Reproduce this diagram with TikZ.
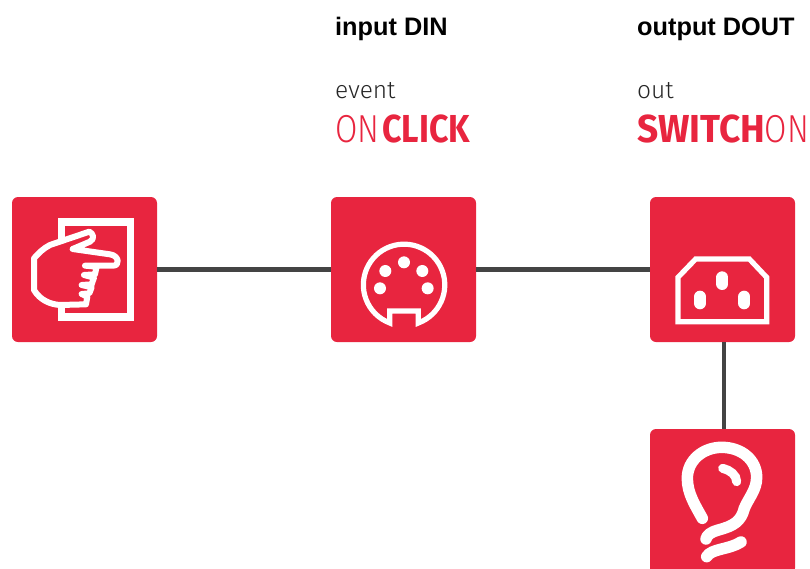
\documentclass[tikz,border=0pt]{standalone}
\usepackage{fontspec}
\setmainfont{Liberation Sans}
\newfontfamily\lightfont{Fira Sans Light}
\newfontfamily\heavyfont{Fira Sans Bold}
\definecolor{boxred}{HTML}{E8253F}
\definecolor{wiregray}{HTML}{444444}
\tikzset{
  iconbox/.style={fill=boxred, rounded corners=6pt, minimum size=145pt, inner sep=0pt},
  wire/.style={draw=wiregray, line width=4.6pt},
  iconline/.style={draw=white, line width=5.2pt, line join=miter},
  label/.style={anchor=base west, inner sep=0pt},
  headtext/.style={label, font=\fontsize{25.3}{25.3}\selectfont\bfseries},
  smalltext/.style={label, font=\fontsize{24.5}{24.5}\lightfont, text=black!85},
  bigtext/.style={label, font=\fontsize{39}{39}\selectfont, text=boxred}
}
\begin{document}
\begin{tikzpicture}[x=1pt, y=1pt]
  \clip (0, 0) rectangle (810, -568);
  \node [iconbox] (clickbox) at (84.5, -269.5) {};
  \node [iconbox] (dinbox) at (403.5, -269.5) {};
  \node [iconbox] (plugbox) at (722.5, -269.5) {};
  \node [iconbox] (lampbox) at (722.5, -501.5) {};
  \draw [wire] (clickbox) -- (dinbox);
  \draw [wire] (dinbox) -- (plugbox);
  \draw [wire] ([xshift=1.5pt]plugbox.south) -- ([xshift=1.5pt]lampbox.north);
  \node [headtext] (dinhead) at (335, -35) {input DIN};
  \node [headtext] (outhead) at (637, -35) {output DOUT};
  \node [smalltext] (eventtext) at (335, -98) {event};
  \node [smalltext] (outtext) at (637, -98) {out};
  \node [bigtext] (clicktext) at (335, -142) {\scalebox{.83}[1]{\lightfont ON}\hspace{3pt}\scalebox{.87}[1]{\heavyfont CLICK}};
  \node [bigtext] (switchtext) at (637, -142) {\scalebox{.95}[1]{\heavyfont SWITCH}\scalebox{.83}[1]{\lightfont ON}};
  \draw [iconline, line width=7.5pt] (61.5, -240) -- (61.5, -222) -- (130.5, -222) -- (130.5, -317) -- (61.5, -317) -- (61.5, -305);
  \begin{scope}[shift={(30, -225)}, x=.3333pt, y=.3333pt]
    \draw [iconline, line width=6pt, fill=boxred, line join=round] (178, -20) .. controls (190, -25) and (195, -42) .. (180, -50) -- (128, -72) -- (240, -88) .. controls (268, -92) and (270, -122) .. (250, -122) -- (165, -122) -- (200, -125) -- (195, -148) -- (162, -150) -- (192, -158) -- (185, -178) -- (155, -180) -- (185, -187) -- (178, -205) -- (155, -207) -- (172, -215) -- (168, -238) -- (90, -240) .. controls (60, -238) and (30, -225) .. (12, -195) -- (12, -100) .. controls (25, -85) and (40, -70) .. (60, -60) -- cycle;
  \end{scope}
  \begin{scope}[shift={(320, -190)}, x=.3333pt, y=.3333pt]
    \draw [iconline] (295, -399) arc [start angle=-69.5, end angle=249.5, radius=40.7pt] -- (209, -363) -- (295, -363) -- cycle;
    \foreach \px/\py in {252/217, 196/243, 307/243, 180/295, 323/295}
      \fill [white] (\px, -\py) circle (6pt);
  \end{scope}
  \begin{scope}[shift={(640, -190)}, x=.3333pt, y=.3333pt]
    \draw [iconline] (114, -395) -- (380, -395) -- (380, -262) -- (328, -207) -- (167, -207) -- (114, -262) -- cycle;
    \foreach \px/\py in {247/272, 180/330, 313/330}
      \draw [white, line width=12pt, line cap=round] (\px, -\py + 10) -- (\px, -\py - 10);
  \end{scope}
  \begin{scope}[shift={(675, -440)}, x=.3333pt, y=.3333pt]
    \draw [iconline, line width=11.5pt, line cap=round, line join=round] (82, -235) .. controls (60, -195) and (37, -160) .. (37, -115) .. controls (37, -60) and (85, -22) .. (140, -22) .. controls (200, -22) and (245, -60) .. (245, -112) .. controls (245, -150) and (220, -175) .. (208, -205) .. controls (198, -245) and (175, -258) .. (130, -270) .. controls (110, -275) and (95, -285) .. (93, -297);
    \draw [iconline, line width=11.5pt, line cap=round] (95, -350) .. controls (110, -325) and (160, -330) .. (198, -306);
    \draw [iconline, line width=9pt, line cap=round] (143, -85) .. controls (165, -90) and (185, -105) .. (185, -125);
  \end{scope}
\end{tikzpicture}
\end{document}
